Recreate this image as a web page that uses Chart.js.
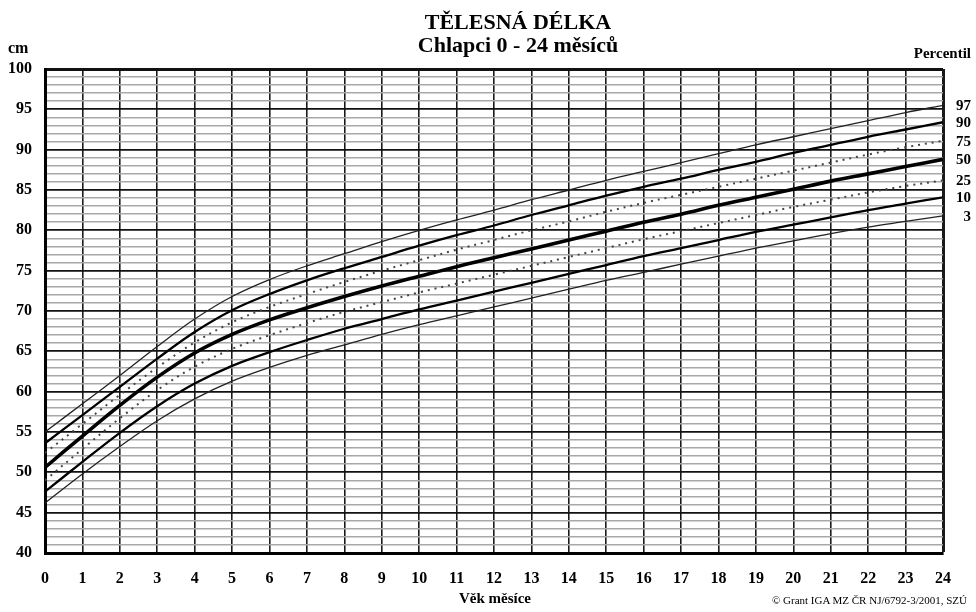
<!DOCTYPE html>
<html lang="cs">
<head>
<meta charset="UTF-8">
<title>Tělesná délka – chlapci 0–24 měsíců</title>
<script src="https://cdn.jsdelivr.net/npm/chart.js"></script>
<style>
  body{margin:0;background:#fff;font-family:'Liberation Serif','Times New Roman',serif;color:#000}
  #wrap{position:relative;width:976px;height:612px;overflow:hidden}
  canvas{position:absolute;left:0;top:0}
  .lbl{position:absolute;font-weight:bold;white-space:nowrap;line-height:1}
  #t1{left:0;width:1036px;text-align:center;top:11px;font-size:22px}
  #t2{left:0;width:1036px;text-align:center;top:34px;font-size:22px}
  #cm{left:8px;top:40px;font-size:16px}
  #perc{right:5px;top:46px;font-size:15px}
  #xt{left:0;width:990px;text-align:center;top:591px;font-size:15px}
  #copy{right:9px;top:594px;font-size:11px;font-weight:normal;position:absolute;white-space:nowrap}
</style>
</head>
<body>
<div id="wrap">
  <canvas id="lengthChart" width="976" height="612"></canvas>
  <div class="lbl" id="t1">TĚLESNÁ DÉLKA</div>
  <div class="lbl" id="t2">Chlapci 0 - 24 měsíců</div>
  <div class="lbl" id="cm">cm</div>
  <div class="lbl" id="perc">Percentil</div>
  <div class="lbl" id="xt">Věk měsíce</div>
  <div id="copy">© Grant IGA MZ ČR NJ/6792-3/2001, SZÚ</div>
</div>

<script>
// age in months
const months = [0,1,2,3,4,5,6,7,8,9,10,11,12,13,14,15,16,17,18,19,20,21,22,23,24];

// body length (cm) per percentile
const p97 = [55.0,58.5,62.0,65.6,69.0,71.8,73.9,75.6,77.1,78.6,80.0,81.3,82.5,83.8,85.0,86.2,87.3,88.4,89.5,90.6,91.6,92.6,93.6,94.6,95.5];
const p90 = [53.6,57.1,60.6,64.1,67.4,70.1,72.1,73.8,75.3,76.7,78.1,79.4,80.6,81.9,83.1,84.3,85.4,86.4,87.5,88.5,89.6,90.6,91.6,92.5,93.4];
const p75 = [52.4,56.0,59.6,63.0,66.1,68.6,70.5,72.1,73.6,75.0,76.3,77.6,78.8,80.0,81.1,82.3,83.4,84.4,85.4,86.4,87.4,88.4,89.4,90.3,91.1];
const p50 = [50.6,54.5,58.3,61.8,64.8,67.1,68.9,70.4,71.8,73.1,74.3,75.5,76.6,77.7,78.8,79.9,81.0,82.0,83.1,84.1,85.1,86.1,87.0,87.9,88.8];
const p25 = [49.0,52.9,56.7,60.2,63.1,65.3,67.0,68.5,69.9,71.1,72.3,73.4,74.5,75.6,76.7,77.8,78.9,79.9,80.9,81.9,82.9,83.8,84.7,85.5,86.2];
const p10 = [47.6,51.3,54.9,58.2,61.0,63.2,64.9,66.4,67.8,69.0,70.2,71.3,72.4,73.5,74.6,75.7,76.8,77.8,78.8,79.8,80.7,81.6,82.5,83.3,84.1];
const p3  = [46.2,49.8,53.2,56.4,59.1,61.3,63.0,64.5,65.8,67.1,68.3,69.4,70.5,71.6,72.7,73.8,74.8,75.8,76.8,77.8,78.7,79.6,80.4,81.1,81.8];

const percentiles = ['97','90','75','50','25','10','3'];
const series = [p97,p90,p75,p50,p25,p10,p3];

// line style per percentile
const styles = {
  '97':{w:1.3,c:'#222',dash:[]},
  '90':{w:2.3,c:'#000',dash:[]},
  '75':{w:2,c:'#444',dash:[2,5]},
  '50':{w:3.6,c:'#000',dash:[]},
  '25':{w:2,c:'#444',dash:[2,5]},
  '10':{w:2.3,c:'#000',dash:[]},
  '3': {w:1.3,c:'#222',dash:[]}
};

const datasets = series.map((vals,i)=>{
  const s = styles[percentiles[i]];
  return {
    label: percentiles[i],
    data: vals.map((v,j)=>({x:months[j],y:v})),
    borderColor: s.c,
    borderWidth: s.w,
    borderDash: s.dash,
    pointRadius: 0,
    fill: false,
    tension: 0.35
  };
});

/* percentile numbers at the right end of each curve */
const endLabels = {
  id:'endLabels',
  afterDatasetsDraw(chart){
    const ctx = chart.ctx;
    ctx.save();
    ctx.font = 'bold 15px "Liberation Serif", serif';
    ctx.fillStyle = '#000';
    ctx.textAlign = 'right';
    ctx.textBaseline = 'middle';
    chart.data.datasets.forEach((ds,i)=>{
      const pts = chart.getDatasetMeta(i).data;
      const last = pts[pts.length-1];
      ctx.fillText(ds.label, 971, last.y + 1);
    });
    ctx.restore();
  }
};

const tickFont = {family:'"Liberation Serif", serif', size:16, weight:'bold'};

new Chart(document.getElementById('lengthChart'),{
  type:'line',
  data:{datasets},
  plugins:[endLabels],
  options:{
    responsive:false,
    animation:false,
    layout:{padding:{top:69,right:33,left:0,bottom:0}},
    plugins:{legend:{display:false},tooltip:{enabled:false},title:{display:false}},
    scales:{
      x:{
        type:'linear', min:0, max:24,
        afterFit(s){ s.height = 59; },
        ticks:{stepSize:1, autoSkip:false, padding:16, color:'#000', font:tickFont},
        grid:{
          drawTicks:false,
          color:'#1a1a1a',
          lineWidth:c=>c.tick && c.tick.value===24 ? 3 : 1.6
        },
        border:{display:true,color:'#000',width:3}
      },
      y:{
        min:40, max:100,
        afterFit(s){ s.width = 45; },
        ticks:{
          stepSize:1, autoSkip:false, padding:13, color:'#000', font:tickFont,
          callback:v=> v%5===0 ? String(v) : ''
        },
        grid:{
          drawTicks:false,
          color:c=> c.tick && c.tick.value%5===0 ? '#111' : '#a8a8a8',
          lineWidth:c=>{
            if(!c.tick) return 1;
            if(c.tick.value===100) return 3;
            return c.tick.value%5===0 ? 1.8 : 1.6;
          }
        },
        border:{display:true,color:'#000',width:3}
      }
    }
  }
});
</script>
</body>
</html>
